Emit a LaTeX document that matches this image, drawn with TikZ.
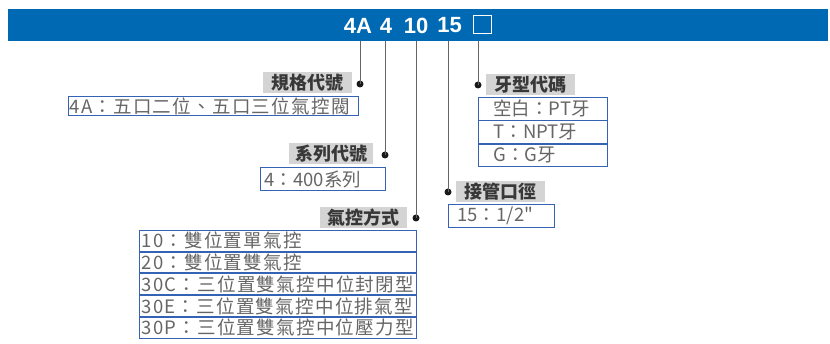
\documentclass[tikz,border=0pt]{standalone}
\usepackage{fontspec}
\setmainfont{Noto Sans CJK TC}
\newfontfamily\titlefont{Liberation Sans}
\newfontfamily\spacedfont[LetterSpace=7]{Noto Sans CJK TC}
\newfontfamily\plainquotefont{Noto Sans CJK TC}
\definecolor{barblue}{HTML}{0069B4}
\definecolor{boxblue}{HTML}{3463B5}
\definecolor{labgray}{HTML}{D4D4D4}
\definecolor{labtext}{HTML}{383838}
\definecolor{rowtext}{HTML}{666666}
\definecolor{linegray}{HTML}{666666}
\tikzset{
  titletext/.style={text=white, inner sep=0pt, font=\titlefont\bfseries\fontsize{22}{22}\selectfont},
  placeholder/.style={draw=white, line width=0.9pt, minimum size=18pt, inner sep=0pt},
  lab/.style={fill=labgray, text=labtext, inner sep=0pt, minimum height=21pt, font=\bfseries\fontsize{18}{18}\selectfont},
  rowbox/.style={draw=boxblue, line width=0.9pt, text=rowtext, inner ysep=0pt, align=left, font=\fontsize{18.5}{18.5}\selectfont},
  widerow/.style={rowbox, font=\spacedfont\fontsize{18.5}{18.5}\selectfont},
  dotn/.style={circle, fill=black!90, inner sep=0pt, minimum size=7pt},
  conn/.style={draw=linegray, line width=0.9pt}
}
\begin{document}
\begin{tikzpicture}[x=1pt,y=-1pt]
\useasboundingbox (0,0) rectangle (830,344);
% top bar
\node[fill=barblue, minimum width=820pt, minimum height=32pt, inner sep=0pt, anchor=north west] (bar) at (8,9) {};
\node[titletext] (c1) at (358,25.5) {4A};
\node[titletext] (c2) at (386,25.5) {4};
\node[titletext] (c3) at (416,25.5) {10};
\node[titletext] (c4) at (449.5,25.5) {15};
\node[placeholder] (c5) at (482,24.5) {};
% dots
\node[dotn] (d1) at (360,84) {};
\node[dotn] (d2) at (385,155) {};
\node[dotn] (d3) at (416,218) {};
\node[dotn] (d4) at (448,192) {};
\node[dotn] (d5) at (478,85) {};
% connectors
\draw[conn] (bar.south -| d1) -- (d1.center);
\draw[conn] (bar.south -| d2) -- (d2.center);
\draw[conn] (bar.south -| d3) -- (d3.center);
\draw[conn] (bar.south -| d4) -- (d4.center);
\draw[conn] (bar.south -| d5) -- (d5.center);
% labels
\node[lab, minimum width=89pt] (l1) at (307.5,83) {規格代號};
\node[lab, minimum width=84pt] (l2) at (331,153.5) {系列代號};
\node[lab, minimum width=87pt] (l3) at (363.5,217.5) {氣控方式};
\node[lab, minimum width=89pt] (l4) at (500.5,191.5) {接管口徑};
\node[lab, minimum width=89pt] (l5) at (530.5,84.5) {牙型代碼};
% tables
\node[widerow, anchor=north west, inner xsep=1pt, text width=288pt, minimum height=19pt] (t1) at (68,96) {4A：五口二位、五口三位氣控閥};
\node[rowbox, anchor=north west, inner xsep=4pt, text width=117pt, minimum height=22.5pt] (t2) at (260,167.5) {4：400系列};
% air control table
\node[widerow, anchor=north west, inner xsep=2pt, text width=273pt, minimum height=20.8pt] (q1) at (139,230) {10：雙位置單氣控};
\node[widerow, anchor=north, inner xsep=2pt, text width=273pt, minimum height=20.8pt] (q2) at (q1.south) {20：雙位置雙氣控};
\node[widerow, anchor=north, inner xsep=2pt, text width=273pt, minimum height=20.8pt] (q3) at (q2.south) {30C：三位置雙氣控中位封閉型};
\node[widerow, anchor=north, inner xsep=2pt, text width=273pt, minimum height=20.8pt] (q4) at (q3.south) {30E：三位置雙氣控中位排氣型};
\node[widerow, anchor=north, inner xsep=2pt, text width=273pt, minimum height=20.8pt] (q5) at (q4.south) {30P：三位置雙氣控中位壓力型};
% thread table
\node[rowbox, anchor=north west, inner xsep=0pt, text width=129pt, minimum height=22.3pt] (g1) at (478,97.3) {\hspace*{15pt}空白：PT牙};
\node[rowbox, anchor=north, inner xsep=0pt, text width=129pt, minimum height=22.3pt] (g2) at (g1.south) {\hspace*{15pt}T：NPT牙};
\node[rowbox, anchor=north, inner xsep=0pt, text width=129pt, minimum height=22.3pt] (g3) at (g2.south) {\hspace*{15pt}G：G牙};
% port size
\node[rowbox, anchor=north west, inner xsep=0pt, text width=106pt, minimum height=23pt] (p1) at (448,204) {\hspace*{9pt}15：1/2{\plainquotefont"}};
\end{tikzpicture}
\end{document}
